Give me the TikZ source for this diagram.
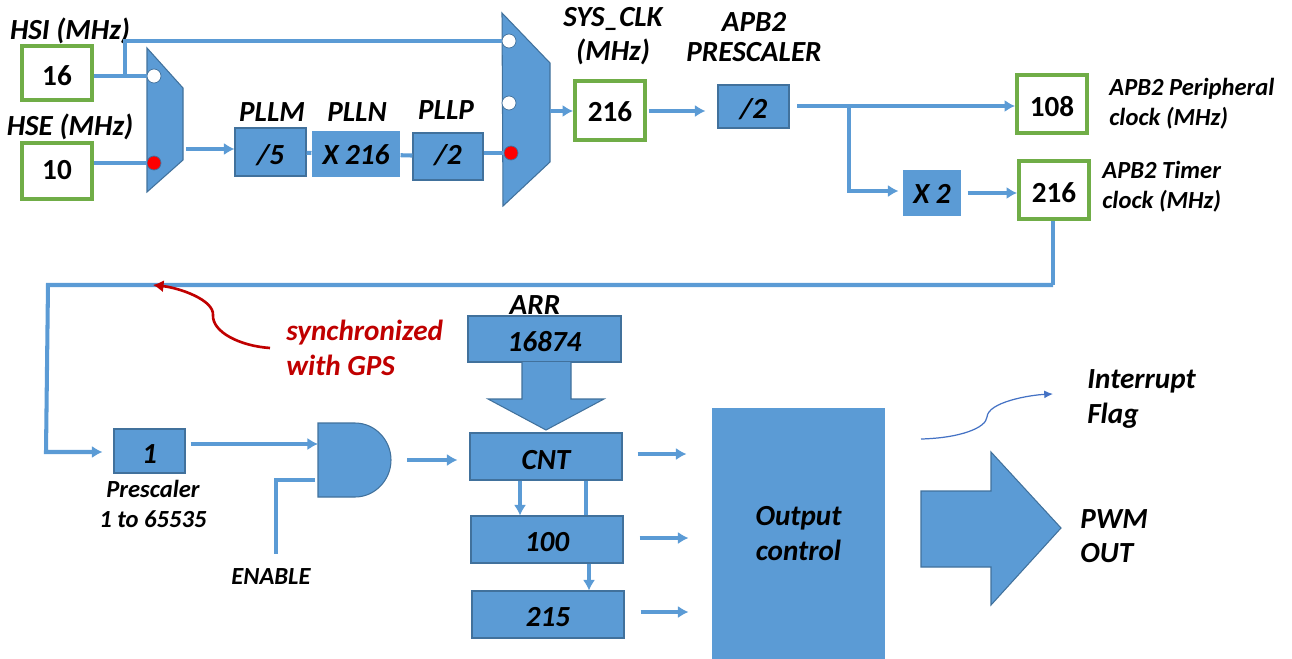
\documentclass[tikz,border=0pt]{standalone}
\usepackage{fontspec}
\setmainfont{Carlito}
\usetikzlibrary{arrows.meta}

\definecolor{wireblue}{HTML}{5B9BD5}
\definecolor{edgeblue}{HTML}{41719C}
\definecolor{clockgreen}{HTML}{70AD47}
\definecolor{syncred}{HTML}{C00000}
\definecolor{thinblue}{HTML}{4472C4}

\tikzset{
    wd/.style={minimum width=#1*0.02cm},
    ht/.style={minimum height=#1*0.02cm},
    tall/.style={text height=#1, text depth=0pt},
    tall/.default=14pt,
    lbl/.style={font=\fontsize{16.6}{19.5}\selectfont\bfseries\itshape, align=center, inner sep=0pt},
    smalllbl/.style={font=\fontsize{14}{17}\selectfont\bfseries\itshape, align=left, inner sep=0pt},
    block/.style={shape=rectangle, fill=wireblue, draw=edgeblue, line width=0.6pt, inner sep=0pt, lbl},
    clockbox/.style={shape=rectangle, fill=white, draw=clockgreen, line width=2.2pt, inner sep=0pt,
        font=\fontsize{16.6}{19.5}\selectfont\bfseries},
    wire/.style={draw=wireblue, line width=2.3pt},
    muxshape/.style={fill=wireblue, draw=edgeblue, line width=0.6pt},
    port/.style={shape=circle, draw=edgeblue, line width=0.4pt, minimum size=0.28cm, inner sep=0pt},
}

\begin{document}
\begin{tikzpicture}[x=0.02cm, y=-0.02cm, >={Latex[length=6pt, width=7pt]}]
        \useasboundingbox (0,0) rectangle (1292,659);

        % selectors and big shapes
        \draw[muxshape] (147,48) -- (183,88) -- (183,160) -- (147,192) -- cycle;
        \draw[muxshape] (502,13) -- (550,63) -- (550,162) -- (503,206) -- cycle;
        \draw[muxshape] (318,423) -- (355,423) .. controls (375,423) and (391,440) .. (391,460) .. controls (391,480) and (375,497) .. (355,497) -- (318,497) -- cycle;
        \draw[muxshape] (921,491) -- (991,491) -- (991,452) -- (1061,528) -- (991,605) -- (991,567) -- (921,567) -- cycle;

        \node[port, fill=white] (MuxAhsi) at (154,76) {};
        \node[port, fill=red] (MuxAhse) at (154,163) {};
        \node[port, fill=white] (MuxBhsi) at (509,41) {};
        \node[port, fill=white] (MuxBhse) at (509,103) {};
        \node[port, fill=red] (MuxBpll) at (511,153) {};

        % clock tree
        \node[clockbox, wd=70, ht=54, tall] (HSI) at (57,73) {16};
        \node[clockbox, wd=70, ht=56, tall=10pt] (HSE) at (57,171) {10};
        \node[block, wd=71, ht=48, tall] (PLLM) at (270.5,152) {/5};
        \node[block, wd=88, ht=46, tall=11.6pt, draw=none] (PLLN) at (356,154) {X 216};
        \node[block, wd=70, ht=47, tall=9.5pt] (PLLP) at (448,156.5) {/2};
        \node[clockbox, wd=70, ht=59, tall=13pt] (SYSCLK) at (610,110.5) {216};
        \node[block, wd=71, ht=43, tall] (APB) at (753.5,106.5) {/2};
        \node[block, wd=58, ht=46, draw=none, tall=11.6pt] (Xtwo) at (932,193) {X 2};
        \node[clockbox, wd=70, ht=58, tall] (Periph) at (1052,104) {108};
        \node[clockbox, wd=70, ht=58, tall] (Timer) at (1054,190) {216};

        \node[lbl] (HSIlbl) at (70,31) {HSI (MHz)};
        \node[lbl] (HSElbl) at (70,127) {HSE (MHz)};
        \node[lbl] (PLLMlbl) at (272,112) {PLLM};
        \node[lbl] (PLLNlbl) at (357,112) {PLLN};
        \node[lbl] (PLLPlbl) at (446,110) {PLLP};
        \node[lbl] (SYSlbl) at (613,36) {SYS\_CLK\\(MHz)};
        \node[lbl, font=\fontsize{16.6}{16.6}\selectfont\bfseries\itshape] (APBlbl) at (754,37) {APB2\\PRESCALER};
        \node[smalllbl, anchor=west] (Periphlbl) at (1109,104) {APB2 Peripheral\\clock (MHz)};
        \node[smalllbl, anchor=west] (Timerlbl) at (1102,187) {APB2 Timer\\clock (MHz)};

        \coordinate (HSItap) at (125,75);
        \coordinate (HSItop) at (125,41);
        \coordinate (MuxAout) at (186,149);
        \coordinate (MuxBout) at (550,111);
        \coordinate (APBout) at (797,106);
        \coordinate (APBtap) at (849,106);
        \coordinate (Xtwoin) at (849,191);
        \coordinate (Turn) at (1053,285);

        \draw [wire] (HSI.east |- MuxAhsi) -- (MuxAhsi);
        \draw [wire] (HSItap) -- (HSItop) -- (MuxBhsi);
        \draw [wire] (HSE.east |- MuxAhse) -- (MuxAhse);
        \draw [wire, ->] (MuxAout) -- (PLLM.west |- MuxAout);
        \draw [wire] (PLLM) -- (PLLN);
        \draw [wire] (PLLN) -- (PLLP);
        \draw [wire] (PLLP.east |- MuxBpll) -- (MuxBpll);
        \draw [wire, ->] (MuxBout) -- (SYSCLK.west |- MuxBout);
        \draw [wire, ->] ([xshift=2*0.02cm]SYSCLK.east |- MuxBout) -- ([xshift=-12*0.02cm]APB.west |- MuxBout);
        \draw [wire, ->] (APBout) -- (Periph.west |- APBout);
        \draw [wire, ->] (APBtap) -- (Xtwoin) -- ([xshift=-4*0.02cm]Xtwo.west |- Xtwoin);
        \draw [wire, ->] ([xshift=6*0.02cm]Xtwo.east) -- (Timer.west |- Xtwo.east);
        \draw [wire] (Timer.south -| Turn) -- (Turn);

        % timer
        \node[block, wd=71, ht=44, tall] (PSC) at (149.5,451) {1};
        \node[block, wd=153, ht=46, tall] (ARR) at (544.5,339) {16874};
        \node[block, wd=152, ht=47, tall=15pt] (CNT) at (546,456.5) {CNT};
        \node[block, wd=152, ht=47, tall] (CCRa) at (547,539.5) {100};
        \node[block, wd=152, ht=47, tall] (CCRb) at (548,614.5) {215};
        \node[block, wd=173, ht=251, draw=none] (Output) at (798.5,533.5) {Output\\control};
        \draw[muxshape] (522,362) -- (522,399) -- (488,399) -- (546,430) -- (604,399) -- (571,399) -- (571,362);

        \node[lbl] (ARRlbl) at (535,305) {ARR};
        \node[smalllbl, align=center] (PSClbl) at (153,504) {Prescaler\\1 to 65535};
        \node[smalllbl] (ENlbl) at (271,577) {ENABLE};
        \node[lbl, align=left, anchor=west, text=syncred] (Synclbl) at (286,348) {synchronized\\with GPS};
        \node[lbl, align=left, anchor=west] (Intlbl) at (1087,399) {Interrupt\\Flag};
        \node[lbl, align=left, anchor=west] (PWMlbl) at (1080,536) {PWM\\OUT};

        \coordinate (Back) at (48,285);
        \coordinate (Down) at (46,452);
        \coordinate (SyncMark) at (153,285);
        \coordinate (SyncEnd) at (270,348);
        \coordinate (ANDa) at (318,444);
        \coordinate (ANDin) at (315,480);
        \coordinate (ANDcorner) at (276,480);
        \coordinate (ENend) at (276,554);
        \coordinate (ANDout) at (407,460);
        \coordinate (IntStart) at (921,439);
        \coordinate (IntEnd) at (1053,394);

        \draw [wire, ->] (Turn) -- (Back) -- (Down) -- ([xshift=-11*0.02cm]PSC.west |- Down);
        \draw [wire, ->] ([xshift=5*0.02cm]PSC.east |- ANDa) -- (ANDa);
        \draw [wire] (ANDin) -- (ANDcorner) -- (ENend);
        \draw [wire, ->] (ANDout) -- ([xshift=-12*0.02cm]CNT.west |- ANDout);
        \draw [wire, ->] ([xshift=15*0.02cm]CNT.east |- 0,454) -- ([xshift=-25*0.02cm]Output.west |- 0,454);
        \draw [wire, ->] ([xshift=16*0.02cm]CCRa.east |- 0,538) -- ([xshift=-23*0.02cm]Output.west |- 0,538);
        \draw [wire, ->] ([xshift=16*0.02cm]CCRb.east |- 0,612) -- ([xshift=-23*0.02cm]Output.west |- 0,612);
        \draw [wire, ->] (CNT.south -| 520,0) -- (CCRa.north -| 520,0);
        \draw [wire] (CNT.south -| 586,0) -- (CCRa.north -| 586,0);
        \draw [wire, ->] (CCRa.south -| 589,0) -- (CCRb.north -| 589,0);

        \draw [syncred, line width=1.5pt, ->] (SyncEnd) .. controls (240,346) and (212,332) .. (213,315) .. controls (214,300) and (180,288) .. (SyncMark);
        \draw [thinblue, line width=0.7pt, -{Latex[length=5pt, width=4.5pt]}] (IntStart) .. controls (960,438) and (986,428) .. (987,417) .. controls (988,402) and (1030,395) .. (IntEnd);
    \end{tikzpicture}
\end{document}
